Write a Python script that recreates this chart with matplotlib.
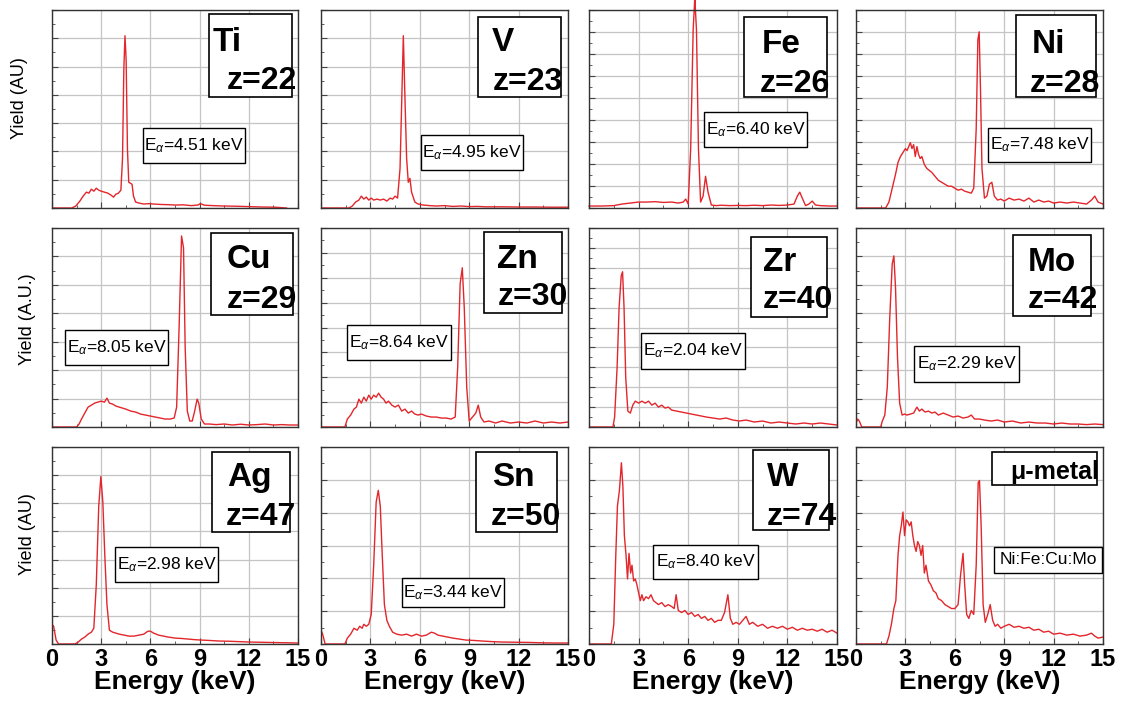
import matplotlib.pyplot as plt
from matplotlib.patches import Rectangle
from matplotlib.ticker import MultipleLocator

plt.rcParams['font.family'] = ['Liberation Sans', 'DejaVu Sans']
plt.rcParams['mathtext.fontset'] = 'custom'
plt.rcParams['mathtext.rm'] = 'Liberation Sans'
plt.rcParams['mathtext.it'] = 'Liberation Sans:italic'

# ---- spectra (energy in keV, yield as fraction of panel height) ----
ti_e = [0.0, 1.2, 1.45, 1.7, 1.9, 2.1, 2.25, 2.4, 2.55, 2.7, 2.85, 3.0, 3.2, 3.4, 3.6, 3.75, 3.9, 4.05, 4.2, 4.3,
        4.38, 4.45, 4.52, 4.6, 4.68, 4.78, 4.88, 4.97, 5.1, 5.3, 5.6, 5.9, 6.2, 6.6, 7.0, 7.5, 8.0, 8.5, 8.9, 9.05,
        9.3, 9.8, 10.5, 11.2, 12.0, 12.8, 13.6, 14.3]
ti_y = [0.0, 0.0, 0.01, 0.035, 0.06, 0.08, 0.075, 0.095, 0.085, 0.1, 0.09, 0.085, 0.08, 0.075, 0.065, 0.055, 0.07, 0.075, 0.09, 0.25,
        0.7, 0.87, 0.75, 0.3, 0.13, 0.125, 0.12, 0.06, 0.03, 0.025, 0.02, 0.022, 0.02, 0.018, 0.017, 0.015, 0.016, 0.012, 0.015, 0.022,
        0.014, 0.012, 0.01, 0.009, 0.007, 0.005, 0.004, 0.0]

v_e = [0.0, 1.7, 1.9, 2.1, 2.3, 2.45, 2.6, 2.75, 2.9, 3.05, 3.2, 3.4, 3.6, 3.8, 4.0, 4.2, 4.35, 4.5, 4.65, 4.8,
       4.92, 5.0, 5.1, 5.2, 5.3, 5.4, 5.5, 5.7, 5.9, 6.2, 6.6, 7.0, 7.5, 8.0, 8.5, 9.0, 9.5, 10.0, 11.0, 12.0,
       13.0, 14.0, 15.0]
v_y = [0.0, 0.0, 0.01, 0.03, 0.04, 0.06, 0.045, 0.055, 0.04, 0.05, 0.04, 0.045, 0.04, 0.045, 0.035, 0.05, 0.045, 0.06, 0.05, 0.2,
       0.6, 0.87, 0.55, 0.25, 0.13, 0.15, 0.08, 0.03, 0.02, 0.015, 0.012, 0.01, 0.012, 0.008, 0.01, 0.007, 0.008, 0.006, 0.006, 0.005,
       0.005, 0.004, 0.004]

fe_e = [0.0, 0.8, 1.5, 2.0, 2.5, 3.0, 3.5, 4.0, 4.5, 5.0, 5.4, 5.7, 5.85, 6.0, 6.15, 6.3, 6.4, 6.5, 6.62, 6.75,
        6.9, 7.05, 7.2, 7.4, 7.7, 8.0, 8.5, 9.0, 9.5, 10.0, 10.5, 11.0, 11.5, 12.0, 12.4, 12.6, 12.75, 12.9, 13.1, 13.3,
        13.5, 13.7, 14.0, 14.5, 15.0]
fe_y = [0.01, 0.01, 0.012, 0.02, 0.025, 0.03, 0.03, 0.032, 0.028, 0.03, 0.025, 0.03, 0.045, 0.02, 0.3, 0.9, 1.06, 0.9, 0.3, 0.03,
        0.06, 0.16, 0.08, 0.015, 0.012, 0.014, 0.012, 0.013, 0.012, 0.014, 0.012, 0.015, 0.013, 0.015, 0.02, 0.06, 0.08, 0.05, 0.012, 0.02,
        0.035, 0.015, 0.012, 0.01, 0.01]

ni_e = [0.0, 1.8, 2.0, 2.2, 2.4, 2.55, 2.7, 2.85, 3.0, 3.1, 3.2, 3.3, 3.4, 3.5, 3.6, 3.7, 3.8, 3.9, 4.0, 4.15,
        4.3, 4.45, 4.6, 4.8, 5.0, 5.2, 5.4, 5.6, 5.8, 6.0, 6.2, 6.4, 6.6, 6.8, 7.0, 7.15, 7.3, 7.4, 7.48, 7.56,
        7.65, 7.8, 7.95, 8.1, 8.25, 8.4, 8.6, 8.8, 9.0, 9.3, 9.6, 9.9, 10.2, 10.5, 10.8, 11.1, 11.4, 11.7, 12.0, 12.4,
        12.8, 13.2, 13.6, 14.0, 14.3, 14.5, 14.7, 15.0]
ni_y = [0.0, 0.0, 0.03, 0.1, 0.17, 0.23, 0.26, 0.28, 0.3, 0.29, 0.31, 0.33, 0.3, 0.32, 0.26, 0.31, 0.27, 0.25, 0.26, 0.22,
        0.2, 0.19, 0.18, 0.16, 0.14, 0.13, 0.12, 0.11, 0.11, 0.1, 0.09, 0.095, 0.085, 0.08, 0.075, 0.1, 0.4, 0.85, 0.89, 0.6,
        0.2, 0.05, 0.06, 0.12, 0.13, 0.06, 0.04, 0.045, 0.035, 0.05, 0.04, 0.045, 0.035, 0.05, 0.03, 0.04, 0.03, 0.035, 0.025, 0.03,
        0.025, 0.03, 0.025, 0.02, 0.04, 0.06, 0.03, 0.02]

cu_e = [0.0, 1.5, 1.65, 1.8, 2.0, 2.2, 2.4, 2.6, 2.8, 3.0, 3.2, 3.35, 3.5, 3.7, 3.9, 4.1, 4.3, 4.5, 4.8, 5.1,
        5.4, 5.7, 6.0, 6.3, 6.6, 6.9, 7.2, 7.45, 7.6, 7.75, 7.9, 8.02, 8.12, 8.25, 8.4, 8.55, 8.7, 8.85, 8.95, 9.1,
        9.3, 9.6, 10.0, 10.5, 11.0, 11.5, 12.0, 12.5, 13.0, 13.5, 14.0, 14.5, 15.0]
cu_y = [0.0, 0.0, 0.015, 0.04, 0.07, 0.1, 0.11, 0.12, 0.125, 0.13, 0.125, 0.145, 0.12, 0.115, 0.105, 0.1, 0.095, 0.09, 0.08, 0.075,
        0.065, 0.06, 0.055, 0.05, 0.045, 0.04, 0.04, 0.045, 0.1, 0.5, 0.96, 0.9, 0.4, 0.08, 0.03, 0.03, 0.08, 0.14, 0.12, 0.04,
        0.015, 0.015, 0.012, 0.015, 0.01, 0.014, 0.01, 0.012, 0.015, 0.01, 0.012, 0.01, 0.01]

zn_e = [0.0, 1.45, 1.6, 1.8, 2.0, 2.15, 2.3, 2.45, 2.6, 2.75, 2.9, 3.05, 3.2, 3.35, 3.5, 3.65, 3.8, 3.95, 4.1, 4.3,
        4.5, 4.7, 4.9, 5.1, 5.3, 5.5, 5.7, 5.9, 6.1, 6.4, 6.7, 7.0, 7.3, 7.6, 7.9, 8.15, 8.3, 8.45, 8.58, 8.7,
        8.85, 9.0, 9.2, 9.4, 9.55, 9.7, 9.9, 10.2, 10.6, 11.0, 11.5, 12.0, 12.5, 13.0, 13.5, 14.0, 14.5, 15.0]
zn_y = [0.0, 0.0, 0.04, 0.06, 0.09, 0.1, 0.14, 0.12, 0.15, 0.13, 0.16, 0.14, 0.16, 0.15, 0.17, 0.15, 0.14, 0.12, 0.13, 0.11,
        0.1, 0.11, 0.08, 0.09, 0.07, 0.08, 0.065, 0.06, 0.065, 0.055, 0.05, 0.05, 0.045, 0.045, 0.04, 0.05, 0.3, 0.72, 0.8, 0.6,
        0.2, 0.03, 0.05, 0.07, 0.11, 0.05, 0.025, 0.03, 0.02, 0.03, 0.02, 0.025, 0.02, 0.03, 0.02, 0.025, 0.02, 0.025]

zr_e = [0.0, 1.45, 1.55, 1.7, 1.82, 1.95, 2.03, 2.12, 2.22, 2.35, 2.5, 2.65, 2.8, 3.0, 3.2, 3.4, 3.6, 3.8, 4.0, 4.2,
        4.4, 4.6, 4.8, 5.0, 5.3, 5.6, 5.9, 6.2, 6.5, 6.8, 7.1, 7.5, 7.9, 8.3, 8.7, 9.1, 9.5, 10.0, 10.5, 11.0,
        11.5, 12.0, 12.5, 13.0, 13.5, 14.0, 14.5, 15.0]
zr_y = [0.0, 0.0, 0.05, 0.3, 0.6, 0.76, 0.78, 0.6, 0.25, 0.08, 0.07, 0.11, 0.13, 0.12, 0.13, 0.12, 0.13, 0.11, 0.12, 0.1,
        0.11, 0.095, 0.1, 0.085, 0.08, 0.075, 0.07, 0.065, 0.06, 0.055, 0.05, 0.045, 0.04, 0.045, 0.035, 0.03, 0.035, 0.025, 0.03, 0.02,
        0.025, 0.02, 0.015, 0.02, 0.015, 0.02, 0.015, 0.01]

mo_e = [0.0, 0.1, 0.2, 0.35, 1.5, 1.6, 1.75, 1.9, 2.05, 2.2, 2.3, 2.4, 2.52, 2.65, 2.8, 2.95, 3.1, 3.3, 3.5, 3.7,
        3.85, 4.0, 4.2, 4.4, 4.6, 4.8, 5.0, 5.3, 5.6, 5.9, 6.2, 6.5, 6.8, 7.0, 7.2, 7.5, 7.8, 8.2, 8.6, 9.0,
        9.5, 10.0, 10.5, 11.0, 11.5, 12.0, 12.5, 13.0, 13.5, 14.0, 14.5, 15.0]
mo_y = [0.02, 0.04, 0.03, 0.0, 0.0, 0.03, 0.06, 0.2, 0.55, 0.82, 0.86, 0.7, 0.35, 0.12, 0.06, 0.065, 0.06, 0.065, 0.07, 0.1,
        0.08, 0.09, 0.075, 0.08, 0.07, 0.075, 0.06, 0.07, 0.06, 0.05, 0.055, 0.045, 0.05, 0.06, 0.04, 0.04, 0.035, 0.03, 0.035, 0.025,
        0.03, 0.02, 0.025, 0.02, 0.02, 0.015, 0.02, 0.015, 0.015, 0.012, 0.015, 0.012]

ag_e = [0.0, 0.1, 0.25, 0.4, 1.4, 1.6, 1.8, 2.0, 2.2, 2.4, 2.55, 2.7, 2.85, 2.98, 3.1, 3.22, 3.35, 3.5, 3.7, 3.9,
        4.1, 4.4, 4.7, 5.0, 5.3, 5.6, 5.85, 6.0, 6.2, 6.5, 6.8, 7.1, 7.5, 7.9, 8.3, 8.7, 9.1, 9.6, 10.2, 10.8,
        11.4, 12.0, 12.6, 13.2, 13.8, 14.4, 15.0]
ag_y = [0.1, 0.09, 0.02, 0.0, 0.0, 0.01, 0.025, 0.035, 0.05, 0.06, 0.08, 0.3, 0.7, 0.85, 0.72, 0.45, 0.2, 0.07, 0.06, 0.055,
        0.05, 0.045, 0.04, 0.04, 0.045, 0.05, 0.065, 0.065, 0.055, 0.045, 0.04, 0.035, 0.03, 0.028, 0.025, 0.022, 0.02, 0.018, 0.015, 0.014,
        0.012, 0.01, 0.009, 0.008, 0.007, 0.006, 0.005]

sn_e = [0.0, 0.1, 0.25, 1.45, 1.6, 1.8, 2.0, 2.2, 2.35, 2.5, 2.6, 2.75, 2.9, 3.05, 3.2, 3.35, 3.48, 3.6, 3.72, 3.85,
        4.0, 4.15, 4.35, 4.6, 4.9, 5.2, 5.5, 5.8, 6.1, 6.4, 6.7, 6.9, 7.1, 7.4, 7.7, 8.0, 8.4, 8.8, 9.3, 9.8,
        10.4, 11.0, 11.8, 12.6, 13.4, 14.2, 15.0]
sn_y = [0.07, 0.05, 0.0, 0.0, 0.03, 0.05, 0.08, 0.07, 0.09, 0.08, 0.1, 0.09, 0.1, 0.15, 0.4, 0.72, 0.78, 0.7, 0.45, 0.2,
        0.12, 0.09, 0.06, 0.05, 0.045, 0.05, 0.04, 0.05, 0.04, 0.045, 0.06, 0.055, 0.045, 0.04, 0.035, 0.03, 0.025, 0.02, 0.018, 0.015,
        0.012, 0.01, 0.009, 0.008, 0.006, 0.005, 0.005]

w_e = [0.0, 1.35, 1.5, 1.62, 1.72, 1.84, 1.96, 2.05, 2.14, 2.24, 2.33, 2.42, 2.52, 2.6, 2.7, 2.8, 2.9, 3.0, 3.1, 3.2,
       3.3, 3.45, 3.6, 3.75, 3.9, 4.05, 4.2, 4.4, 4.6, 4.8, 5.0, 5.15, 5.27, 5.4, 5.6, 5.8, 6.0, 6.2, 6.4, 6.6,
       6.8, 7.0, 7.2, 7.4, 7.6, 7.8, 8.0, 8.2, 8.4, 8.55, 8.7, 8.9, 9.1, 9.3, 9.5, 9.7, 9.9, 10.2, 10.5, 10.8,
       11.1, 11.4, 11.7, 12.0, 12.3, 12.6, 12.9, 13.2, 13.5, 13.8, 14.1, 14.4, 14.7, 15.0]
w_y = [0.0, 0.0, 0.1, 0.45, 0.7, 0.78, 0.92, 0.8, 0.55, 0.45, 0.33, 0.46, 0.36, 0.4, 0.32, 0.33, 0.3, 0.26, 0.22, 0.25,
       0.22, 0.24, 0.23, 0.25, 0.22, 0.21, 0.2, 0.21, 0.19, 0.2, 0.19, 0.18, 0.25, 0.17, 0.16, 0.17, 0.15, 0.16, 0.14, 0.15,
       0.13, 0.14, 0.12, 0.13, 0.11, 0.12, 0.12, 0.16, 0.25, 0.13, 0.1, 0.11, 0.1, 0.12, 0.14, 0.1, 0.11, 0.09, 0.1, 0.08,
       0.09, 0.08, 0.09, 0.075, 0.085, 0.07, 0.08, 0.07, 0.075, 0.065, 0.075, 0.06, 0.07, 0.055]

mu_e = [0.0, 1.85, 2.0, 2.15, 2.3, 2.42, 2.55, 2.65, 2.75, 2.85, 2.95, 3.05, 3.15, 3.25, 3.35, 3.45, 3.55, 3.65, 3.75, 3.85,
        3.95, 4.05, 4.15, 4.25, 4.4, 4.55, 4.7, 4.85, 5.0, 5.2, 5.4, 5.6, 5.8, 6.0, 6.2, 6.35, 6.5, 6.6, 6.72, 6.85,
        7.0, 7.15, 7.3, 7.42, 7.5, 7.6, 7.72, 7.85, 8.0, 8.15, 8.3, 8.45, 8.6, 8.8, 9.0, 9.3, 9.6, 9.9, 10.2, 10.5,
        10.8, 11.1, 11.4, 11.7, 12.0, 12.4, 12.8, 13.2, 13.6, 14.0, 14.3, 14.5, 14.7, 15.0]
mu_y = [0.0, 0.0, 0.04, 0.1, 0.18, 0.22, 0.45, 0.55, 0.6, 0.67, 0.55, 0.63, 0.62, 0.6, 0.62, 0.55, 0.5, 0.47, 0.52, 0.5,
        0.45, 0.5, 0.36, 0.4, 0.32, 0.3, 0.27, 0.26, 0.23, 0.22, 0.2, 0.19, 0.18, 0.18, 0.2, 0.35, 0.46, 0.3, 0.15, 0.13,
        0.17, 0.15, 0.4, 0.82, 0.83, 0.6, 0.2, 0.11, 0.15, 0.2, 0.12, 0.09, 0.1, 0.08, 0.09, 0.1, 0.085, 0.09, 0.08, 0.085,
        0.07, 0.075, 0.06, 0.065, 0.05, 0.055, 0.045, 0.05, 0.04, 0.045, 0.055, 0.04, 0.03, 0.035]

spectra = [(ti_e, ti_y), (v_e, v_y), (fe_e, fe_y), (ni_e, ni_y),
           (cu_e, cu_y), (zn_e, zn_y), (zr_e, zr_y), (mo_e, mo_y),
           (ag_e, ag_y), (sn_e, sn_y), (w_e, w_y), (mu_e, mu_y)]
elements = ['Ti', 'V', 'Fe', 'Ni', 'Cu', 'Zn', 'Zr', 'Mo', 'Ag', 'Sn', 'W', 'μ-metal']
z_numbers = [22, 23, 26, 28, 29, 30, 40, 42, 47, 50, 74, None]
e_alpha = ['4.51', '4.95', '6.40', '7.48', '8.05', '8.64', '2.04', '2.29', '2.98', '3.44', '8.40', None]
grid_divs = [7, 7, 9, 9, 7, 8, 10, 7, 7, 6, 6, 6]
energy_ticks = [0, 3, 6, 9, 12, 15]
ylabels = ['Yield (AU)', 'Yield (A.U.)', 'Yield (AU)']

# ---- layout in pixels of the 1127x703 picture ----
W, H = 1127, 703
col_px = [(52, 298), (321, 568), (589, 837), (856, 1103)]
row_px = [(10, 208), (228, 427), (447, 644)]
# element box (x0, y0, x1, y1), name (x, baseline), z (x, baseline)
elem_box = [(209, 14, 292, 97), (478, 17, 561, 97), (744, 17, 827, 97), (1016, 15, 1096, 97),
            (211, 233, 293, 315), (484, 232, 562, 313), (751, 237, 827, 317), (1013, 235, 1091, 316),
            (212, 452, 290, 532), (476, 452, 557, 532), (753, 450, 829, 530), (992, 452, 1097, 485)]
name_pos = [(213, 51), (492, 51), (762, 53), (1032, 53), (227, 268), (497, 268), (763, 271), (1028, 271),
            (227, 486), (492, 486), (767, 486), (1099, 479)]
z_pos = [(227, 89), (493, 90), (760, 92), (1030, 92), (227, 308), (498, 305), (763, 308), (1028, 308),
         (226, 525), (491, 525), (767, 525), None]
ea_box = [(143, 128, 245, 163), (421, 135, 523, 170), (704, 112, 807, 147), (988, 128, 1091, 162),
          (65, 330, 168, 365), (347, 325, 451, 360), (641, 333, 745, 369), (914, 346, 1019, 382),
          (115, 547, 218, 582), (402, 578, 504, 607), (653, 545, 758, 579), (994, 547, 1102, 573)]
ylabel_pos = [(20, 98), (27, 319), (27, 534)]

RED = '#e3262b'


def fx(x):
    return x / W


def fy(y):
    return 1 - y / H


def box(x0, y0, x1, y1, lw=1.2):
    fig.add_artist(Rectangle((fx(x0), fy(y1)), (x1 - x0) / W, (y1 - y0) / H,
                             transform=fig.transFigure, facecolor='white',
                             edgecolor='black', linewidth=lw))


fig = plt.figure(figsize=(W / 100, H / 100), dpi=100)

for i, (energy, yld) in enumerate(spectra):
    r, c = divmod(i, 4)
    (l, rr), (t, b) = col_px[c], row_px[r]
    ax = fig.add_axes([fx(l), fy(b), (rr - l) / W, (b - t) / H])
    # Fe peak runs past the top of its panel in the original
    ax.plot(energy, yld, color=RED, linewidth=1.0, clip_on=(i != 2))
    ax.set_xlim(0, 15)
    ax.set_ylim(0, 1)
    n = grid_divs[i]
    ax.set_xticks(energy_ticks)
    ax.set_yticks([k / n for k in range(n + 1)])
    ax.xaxis.set_minor_locator(MultipleLocator(1.5))
    ax.yaxis.set_minor_locator(MultipleLocator(0.5 / n))
    ax.grid(True, which='major', color='#c4c4c4', linewidth=0.9)
    ax.set_axisbelow(True)
    ax.tick_params(which='both', direction='in', left=True, bottom=True, right=False, top=False,
                   labelleft=False, color='#444444')
    ax.tick_params(which='major', length=4, width=0.8)
    ax.tick_params(which='minor', length=2.5, width=0.6)
    for s in ax.spines.values():
        s.set_color('#333333')
        s.set_linewidth(1.0)
    if r == 2:
        ax.set_xticklabels([str(v) for v in energy_ticks], fontsize=17, fontweight='bold')
        ax.tick_params(axis='x', which='major', pad=3)
        fig.text(fx((l + rr) / 2), fy(689), 'Energy (keV)', ha='center', va='baseline',
                 fontsize=19, fontweight='bold')
    else:
        ax.tick_params(labelbottom=False)

    # element / z box
    box(*elem_box[i])
    if z_numbers[i] is not None:
        fig.text(fx(name_pos[i][0]), fy(name_pos[i][1]), elements[i], ha='left', va='baseline',
                 fontsize=24, fontweight='bold')
        fig.text(fx(z_pos[i][0]), fy(z_pos[i][1]), f'z={z_numbers[i]}', ha='left', va='baseline',
                 fontsize=23, fontweight='bold')
    else:
        fig.text(fx(name_pos[i][0]), fy(name_pos[i][1]), elements[i], ha='right', va='baseline',
                 fontsize=18, fontweight='bold')

    # E_alpha box
    x0, y0, x1, y1 = ea_box[i]
    box(x0, y0, x1, y1, lw=1.0)
    if e_alpha[i] is not None:
        label = r'E$_\alpha$=' + e_alpha[i] + ' keV'
    else:
        label = 'Ni:Fe:Cu:Mo'
    fig.text(fx((x0 + x1) / 2), fy((y0 + y1) / 2), label, ha='center', va='center', fontsize=12.5)

for txt, (xp, yp) in zip(ylabels, ylabel_pos):
    fig.text(fx(xp), fy(yp), txt, rotation=90, ha='center', va='center', fontsize=13)

fig.savefig('out.png', dpi=100)
